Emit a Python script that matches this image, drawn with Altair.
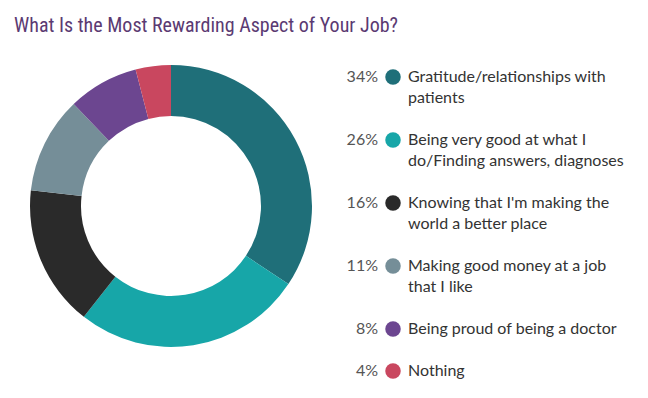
import altair as alt
import pandas as pd

title = "What Is the Most Rewarding Aspect of Your Job?"
categories = [
    "Gratitude/relationships with\npatients",
    "Being very good at what I\ndo/Finding answers, diagnoses",
    "Knowing that I'm making the\nworld a better place",
    "Making good money at a job\nthat I like",
    "Being proud of being a doctor",
    "Nothing",
]
values = [34, 26, 16, 11, 8, 4]
colors = ["#1f6f79", "#17a6a8", "#2a2a2a", "#758e98", "#6c4690", "#c9475f"]

df = pd.DataFrame({"cat": categories, "value": values, "idx": list(range(len(values)))})
df["pct"] = df["value"].astype(str) + "%"
# legend row position in "line" units: each row takes its line count plus one blank line
lines = [c.count("\n") + 1 for c in categories]
pos = []
acc = 0
for n in lines:
    pos.append(acc)
    acc += n + 1
df["pos"] = pos

color = alt.Color("cat:N", scale=alt.Scale(domain=categories, range=colors), legend=None)
yenc = alt.Y("pos:Q", scale=alt.Scale(domain=[0, 16], range=[31, 367]), axis=None)

base = alt.Chart(df)

donut = base.mark_arc(innerRadius=90, outerRadius=141).encode(
    theta=alt.Theta("value:Q", stack=True),
    order=alt.Order("idx:Q"),
    color=color,
    x=alt.value(163),
    y=alt.value(160),
)

pct = base.mark_text(align="right", baseline="middle", fontSize=16, font="Lato", color="#555555").encode(
    x=alt.value(370), y=yenc, text="pct:N"
)

dots = base.mark_point(filled=True, opacity=1, size=240, shape="circle").encode(
    x=alt.value(385), y=yenc, color=color
)

labels = base.mark_text(
    align="left", baseline="alphabetic", dy=5, fontSize=16, font="Lato",
    color="#333333", lineBreak="\n", lineHeight=21,
).encode(x=alt.value(400), y=yenc, text="cat:N")

chart = (
    alt.layer(donut, pct, dots, labels)
    .properties(
        width=632,
        height=344,
        padding={"left": 0, "top": 38, "right": 0, "bottom": 0},
        autosize=alt.AutoSizeParams(type="none"),
        title=alt.Title(
            title, anchor="start", fontSize=20,
            font="Roboto Condensed, DejaVu Sans Condensed, Roboto",
            fontWeight="normal", color="#5b3a72", dx=6, offset=10,
        ),
    )
    .configure_view(stroke=None)
)

chart.save("out.html", embed_options={"renderer": "svg", "actions": False})
